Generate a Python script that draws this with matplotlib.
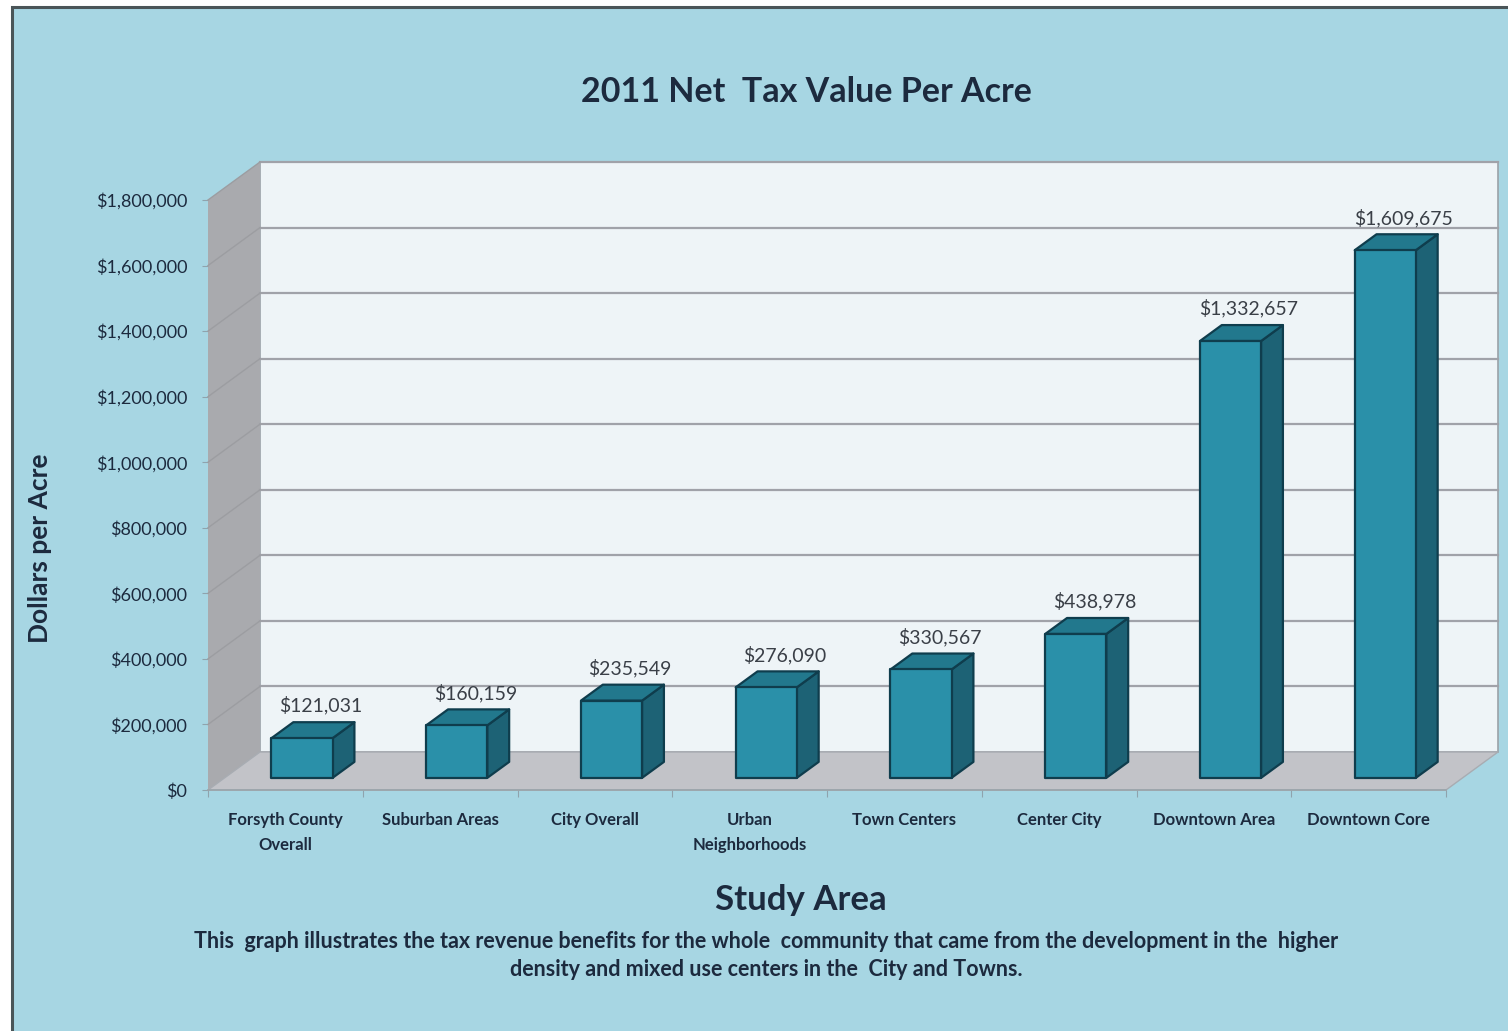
import matplotlib
matplotlib.use("Agg")
import matplotlib.pyplot as plt
from matplotlib.patches import Polygon, Rectangle
from matplotlib.ticker import FuncFormatter

# ---- data ----
categories = ["Forsyth County\nOverall", "Suburban Areas", "City Overall",
              "Urban\nNeighborhoods", "Town Centers", "Center City",
              "Downtown Area", "Downtown Core"]
values = [121031, 160159, 235549, 276090, 330567, 438978, 1332657, 1609675]
value_ticks = list(range(0, 1800001, 200000))

title = "2011 Net  Tax Value Per Acre"
x_title = "Study Area"
y_title = "Dollars per Acre"
caption_lines = ["This  graph illustrates the tax revenue benefits for the whole  community that came from the development in the  higher",
                 "density and mixed use centers in the  City and Towns."]

# ---- styling ----
W, H, DPI = 1508, 1031, 100
bg = "#a7d6e3"
text_col = "#1c2a3e"
wall_col = "#eef4f7"
side_col = "#a9aaae"
floor_col = "#c2c3c8"
grid_col = "#a0a2a9"
front_col = "#2a90a9"
side_bar = "#1d6275"
top_bar = "#22788d"
edge_col = "#0f3d4d"

plt.rcParams["font.family"] = ["Lato", "DejaVu Sans"]

fig = plt.figure(figsize=(W / DPI, H / DPI), dpi=DPI, facecolor="white")

# frame background with dark border on top/left
frame = fig.add_axes([0, 0, 1, 1], zorder=-5)
frame.set_xlim(0, W)
frame.set_ylim(H, 0)
frame.axis("off")
frame.add_patch(Rectangle((12, 7), W, H, facecolor=bg, edgecolor="#4a5558", lw=2.2))

# front plane of the chart: x in category units, y in dollars
ax = fig.add_axes([208 / W, (H - 790) / H, (1446 - 208) / W, (790 - 200) / H])
ax.set_xlim(0, len(categories))
ax.set_ylim(0, value_ticks[-1])
ax.patch.set_visible(False)
for s in ax.spines.values():
    s.set_visible(False)

# depth projection: z in [0, 1] from front to back
DX = 52 / 154.75
DY = 38 / 65.56 * 200000


def P(x, v, z):
    return (x + z * DX, v + z * DY)


n = len(categories)
vmax = value_ticks[-1]

# back wall
ax.add_patch(Polygon([P(0, 0, 1), P(n, 0, 1), P(n, vmax, 1), P(0, vmax, 1)],
                     closed=True, facecolor=wall_col, edgecolor="#9aa2a8",
                     lw=1.2, clip_on=False, zorder=1))
# side wall
ax.add_patch(Polygon([P(0, 0, 0), P(0, 0, 1), P(0, vmax, 1), P(0, vmax, 0)],
                     closed=True, facecolor=side_col, edgecolor="none",
                     clip_on=False, zorder=1))
# floor
ax.add_patch(Polygon([P(0, 0, 0), P(n, 0, 0), P(n, 0, 1), P(0, 0, 1)],
                     closed=True, facecolor=floor_col, edgecolor="#a8acb2",
                     lw=1.0, clip_on=False, zorder=1))

# gridlines on back wall, faint continuation on side wall
for t in value_ticks[1:]:
    xs, ys = zip(P(0, t, 1), P(n, t, 1))
    ax.plot(xs, ys, color=grid_col, lw=1.6, clip_on=False, zorder=2)
    xs, ys = zip(P(0, t, 0), P(0, t, 1))
    ax.plot(xs, ys, color="#9c9da1", lw=1.0, clip_on=False, zorder=2)

# front axis line
ax.plot([0, n], [0, 0], color="#9aa4aa", lw=1.2, clip_on=False, zorder=2)

# bars
z0, z1 = 0.32, 0.74
bw = 0.395
for i, v in enumerate(values):
    xl = i + 0.5 - bw / 2
    xr = i + 0.5 + bw / 2
    front = [P(xl, 0, z0), P(xr, 0, z0), P(xr, v, z0), P(xl, v, z0)]
    side = [P(xr, 0, z0), P(xr, 0, z1), P(xr, v, z1), P(xr, v, z0)]
    top = [P(xl, v, z0), P(xr, v, z0), P(xr, v, z1), P(xl, v, z1)]
    for poly, fc in ((side, side_bar), (top, top_bar), (front, front_col)):
        ax.add_patch(Polygon(poly, closed=True, facecolor=fc, edgecolor=edge_col,
                             lw=1.6, joinstyle="round", clip_on=False, zorder=4))
    lx = P(i + 0.5 + 0.12, v, z0)[0]
    ly = P(i + 0.5, v, z1)[1]
    ax.annotate(f"${v:,.0f}", (lx, ly), xytext=(0, 12), textcoords="offset points",
                ha="center", va="center", fontsize=14, color="#3a3f47",
                zorder=6, annotation_clip=False)

# value axis
ax.set_yticks(value_ticks)
ax.yaxis.set_major_formatter(FuncFormatter(lambda v, _: f"${v:,.0f}"))
ax.tick_params(axis="y", length=4, width=0.8, color="#8fa3ad", pad=11,
               labelsize=13, labelcolor=text_col)

# category axis
ax.set_xticks([i + 0.5 for i in range(n)])
ax.set_xticklabels(categories, fontsize=12, fontweight="bold", color=text_col,
                   linespacing=1.65)
ax.tick_params(axis="x", length=0, pad=16)
ax.set_xticks(range(n + 1), minor=True)
ax.tick_params(axis="x", which="minor", length=5, width=0.8, color="#8fa3ad")

# texts
fig.text(806 / W, 1 - 92 / H, title, ha="center", va="center",
         fontsize=24.5, fontweight="bold", color=text_col)
fig.text(40 / W, 1 - 548 / H, y_title, ha="center", va="center", rotation=90,
         fontsize=19, fontweight="bold", color=text_col)
fig.text(801 / W, 1 - 900 / H, x_title, ha="center", va="center",
         fontsize=25, fontweight="bold", color=text_col)
for k, line in enumerate(caption_lines):
    fig.text(766 / W, 1 - (942 + 28 * k) / H, line, ha="center", va="center",
             fontsize=15.5, fontweight="bold", color=text_col)

fig.savefig("out.png", dpi=DPI, facecolor=fig.get_facecolor())
